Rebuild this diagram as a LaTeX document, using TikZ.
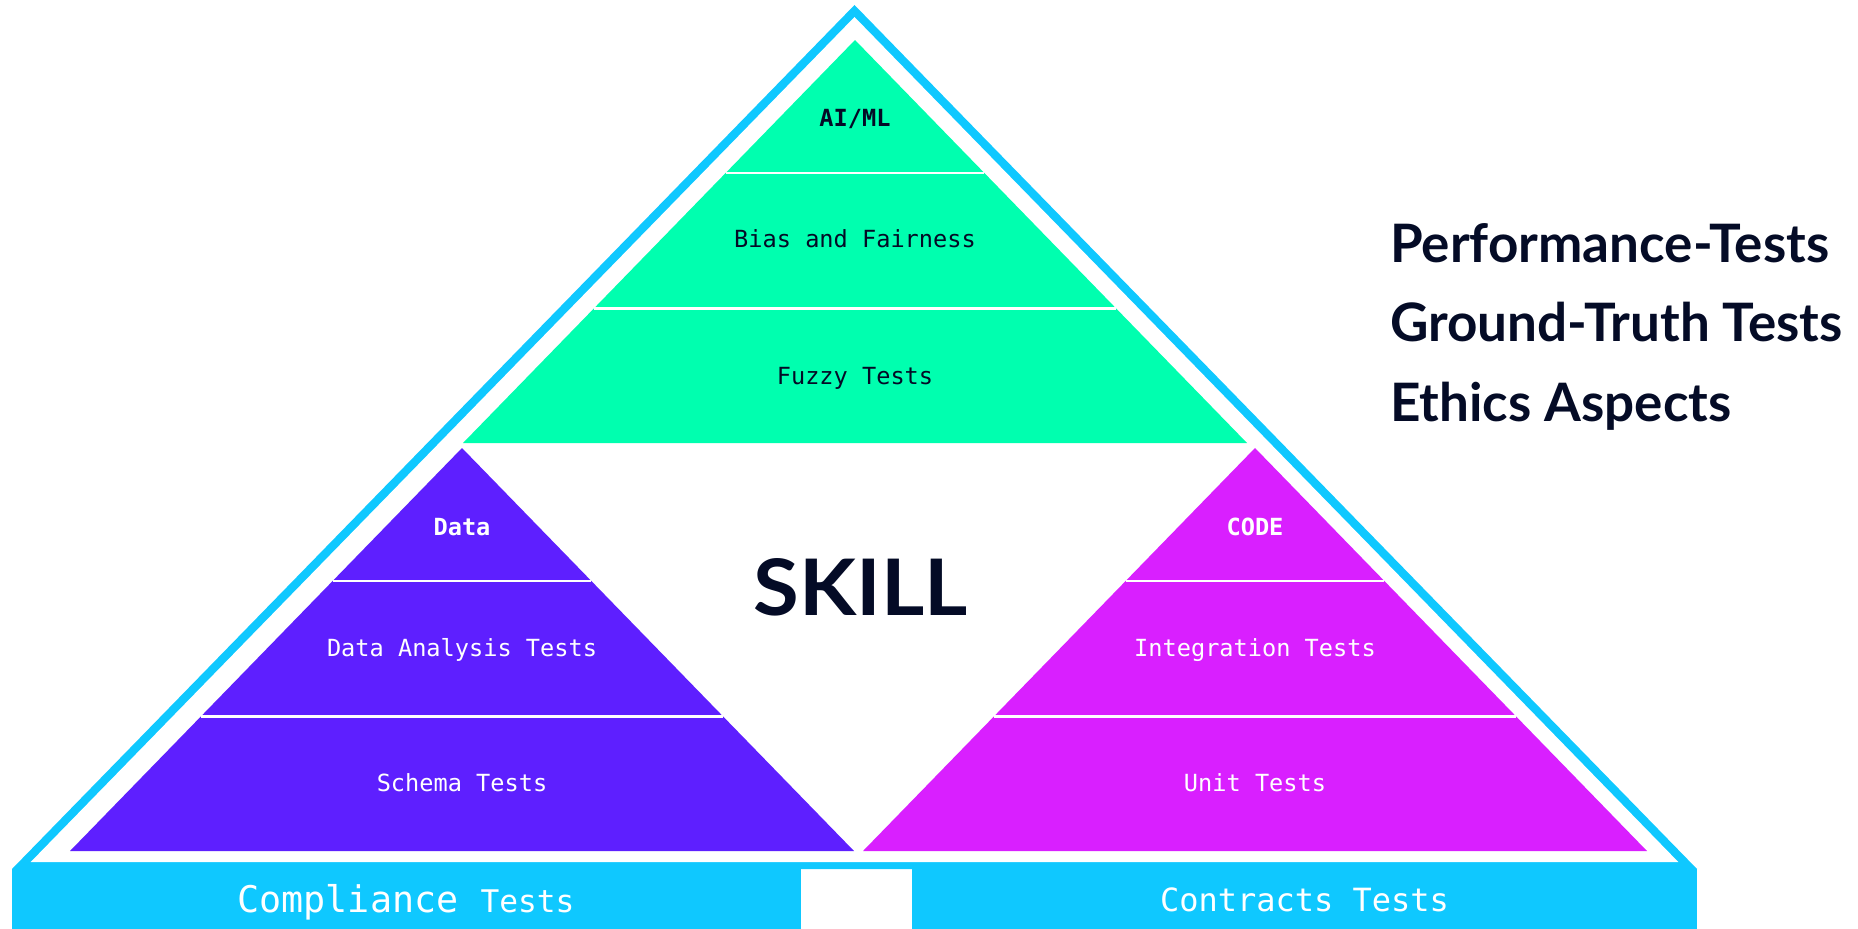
\documentclass[tikz,border=0pt]{standalone}
\usepackage{fontspec}
\newfontfamily\monof{DejaVu Sans Mono}
\newfontfamily\headf{Lato}
\definecolor{sky}{HTML}{0FC8FF}
\definecolor{mint}{HTML}{00FFAF}
\definecolor{violet}{HTML}{5E1FFF}
\definecolor{magentab}{HTML}{D91FFF}
\definecolor{navy}{HTML}{040B26}
\newcommand\mypyr[3]{%
  \fill[#3] (#1,#2) -- ({#1-392},{#2+403}) -- ({#1+392},{#2+403}) -- cycle;
  \draw[divider] ({#1-129.37},{#2+133}) -- ({#1+129.37},{#2+133});
  \draw[divider] ({#1-261.17},{#2+268.5}) -- ({#1+261.17},{#2+268.5});
}
\begin{document}
\begin{tikzpicture}[x=1pt,y=-1pt,
  divider/.style={white,line width=2.5pt},
  lbl/.style={anchor=base,inner sep=0pt,font=\monof\fontsize{23.6}{28}\selectfont},
  lblbold/.style={lbl,font=\monof\bfseries\fontsize{23.6}{28}\selectfont},
  sidetext/.style={anchor=base west,inner sep=0pt,text=navy,font=\headf\bfseries\fontsize{53}{60}\selectfont},
  bartext/.style={anchor=base,inner sep=0pt,text=white}]
\useasboundingbox (0,0) rectangle (1858,929);
% outer outline
\fill[sky] (854.5,5) -- (12,869) -- (1697,869) -- cycle;
\fill[white] (854.5,17) -- (30.7,862) -- (1678.3,862) -- cycle;
% bottom bar
\fill[sky] (12,869) rectangle (801,929);
\fill[sky] (912,869) rectangle (1697,929);
% pyramids
\mypyr{855}{40}{mint}
\mypyr{462}{448}{violet}
\mypyr{1255}{448}{magentab}
% labels AI/ML
\node[lblbold,text=navy] (aiml) at (855,126.6) {AI/ML};
\node[lbl,text=navy] (bias) at (855,247.6) {Bias and Fairness};
\node[lbl,text=navy] (fuzzy) at (855,384.6) {Fuzzy Tests};
% Data
\node[lblbold,text=white] (data) at (462,535) {Data};
\node[lbl,text=white] (dana) at (462,656.6) {Data Analysis Tests};
\node[lbl,text=white] (schema) at (462,791.6) {Schema Tests};
% Code
\node[lblbold,text=white] (code) at (1255,535) {CODE};
\node[lbl,text=white] (integ) at (1255,656.6) {Integration Tests};
\node[lbl,text=white] (unit) at (1255,791.6) {Unit Tests};
% skill
\node[anchor=base,inner sep=0pt,text=navy] (skill) at (861,615) {\resizebox{214pt}{57pt}{\headf\bfseries SKILL}};
% side texts
\node[sidetext] (perf) at (1390,262) {Performance-Tests};
\node[sidetext] (ground) at (1390,341) {Ground-Truth Tests};
\node[sidetext] (ethics) at (1390,421) {Ethics Aspects};
% bar texts
\node[bartext] (compl) at (406,912) {\monof\fontsize{36.7}{40}\selectfont Compliance {\fontsize{31.2}{36}\selectfont Tests}};
\node[bartext] (contr) at (1304.5,911) {\monof\fontsize{32}{36}\selectfont Contracts Tests};
\end{tikzpicture}
\end{document}
